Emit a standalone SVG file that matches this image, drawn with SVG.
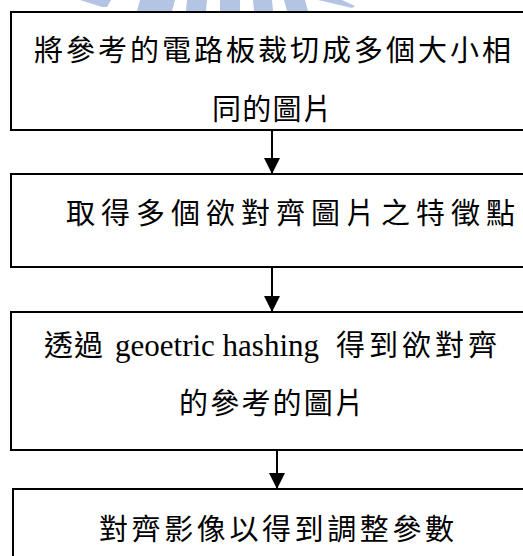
<svg xmlns="http://www.w3.org/2000/svg" width="523" height="556" viewBox="0 0 523 556">
  <style>
    .box { fill: #ffffff; stroke: #000000; stroke-width: 2; }
    .cjk { font-family: "Noto Sans CJK TC", "Noto Sans CJK SC", sans-serif; font-size: 29px; fill: #000000; }
    .lat { font-family: "Liberation Serif", serif; font-size: 31px; fill: #000000; letter-spacing: 0; }
    .wm { fill: #b4c5e4; }
    .conn { stroke: #000000; stroke-width: 2; fill: none; }
  </style>
  <defs>
    <marker id="arr" viewBox="0 0 16 16" refX="16" refY="8" markerWidth="16" markerHeight="16" markerUnits="userSpaceOnUse" orient="auto">
      <path d="M0,0 L16,8 L0,16 Z" fill="#000000"/>
    </marker>
  </defs>

  <g id="watermark">
    <polygon class="wm" points="80,0 111,0 107,7 102,7"/>
    <polygon class="wm" points="140,0 175,0 172,11 137,11"/>
    <polygon class="wm" points="187,0 207,0 206,11 186,11"/>
    <polygon class="wm" points="220,0 240,0 240,11 220,11"/>
    <polygon class="wm" points="253,0 272,0 273,11 254,11"/>
    <polygon class="wm" points="284,0 305,0 308,11 287,11"/>
    <polygon class="wm" points="318,0 342,0 355,6 352,8"/>
  </g>

  <g id="connectors">
    <line class="conn" x1="272" y1="130" x2="272" y2="174" marker-end="url(#arr)"/>
    <line class="conn" x1="272" y1="267" x2="272" y2="312" marker-end="url(#arr)"/>
    <line class="conn" x1="277" y1="450" x2="277" y2="489" marker-end="url(#arr)"/>
  </g>

  <g id="node1">
    <rect class="box" x="11" y="12" width="530" height="118"/>
    <text class="cjk" x="34" y="61" letter-spacing="3">將參考的電路板裁切成多個大小相</text>
    <text class="cjk" x="212" y="120" letter-spacing="1.3">同的圖片</text>
  </g>

  <g id="node2">
    <rect class="box" x="11" y="174" width="530" height="93"/>
    <text class="cjk" x="66" y="224" letter-spacing="6">取得多個欲對齊圖片之特徵點</text>
  </g>

  <g id="node3">
    <rect class="box" x="11" y="312" width="530" height="138"/>
    <text class="cjk" y="356"><tspan x="44" letter-spacing="1">透過</tspan><tspan class="lat" x="115">geoetric hashing</tspan><tspan x="336" letter-spacing="4">得到欲對齊</tspan></text>
    <text class="cjk" x="179" y="414" letter-spacing="2.2">的參考的圖片</text>
  </g>

  <g id="node4">
    <rect class="box" x="13" y="489" width="530" height="80"/>
    <text class="cjk" x="99" y="540" letter-spacing="3.6">對齊影像以得到調整參數</text>
  </g>
</svg>
